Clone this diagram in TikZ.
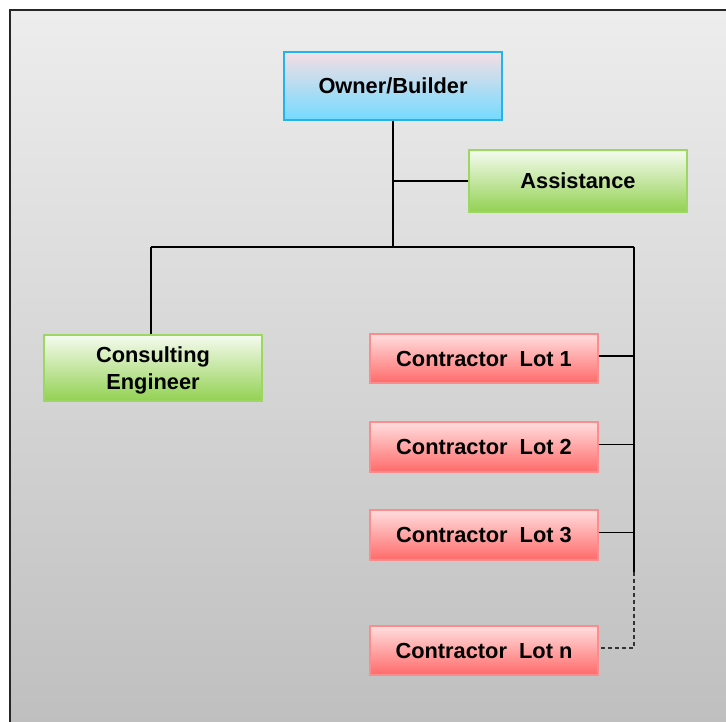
\documentclass[tikz,border=0pt]{standalone}
\usepackage{fontspec}
\setmainfont{Liberation Sans}
\definecolor{bgtop}{HTML}{EDEDED}
\definecolor{bgbot}{HTML}{BEBEBE}
\definecolor{cyantop}{HTML}{F4DEE4}
\definecolor{cyanmid}{HTML}{74DBFF}
\definecolor{cyanbd}{HTML}{22B4EC}
\definecolor{greentop}{HTML}{F5FBEF}
\definecolor{greenmid}{HTML}{93D152}
\definecolor{greenbd}{HTML}{9DD763}
\definecolor{redtop}{HTML}{FFDEDE}
\definecolor{redmid}{HTML}{FFB4B4}
\definecolor{redbot}{HTML}{FF6A6A}
\definecolor{redbd}{HTML}{FF8C8C}
\tikzset{
  box/.style={rectangle, inner sep=0pt, align=center, line width=1.2pt,
    font=\fontsize{21.8}{27.6}\selectfont\bfseries},
  oneline/.style={text height=15.9pt, text depth=0pt},
  cyanbox/.style={box, oneline, draw=cyanbd, top color=cyantop, middle color=cyanmid, bottom color=cyanmid,
    minimum width=218pt, minimum height=68pt},
  greenbox/.style={box, draw=greenbd, top color=greentop, middle color=greenmid, bottom color=greenmid,
    minimum width=218pt},
  redbox/.style={box, oneline, draw=redbd, top color=redtop, middle color=redmid, bottom color=redbot,
    minimum width=228pt, minimum height=49pt},
  link/.style={line width=1.3pt, black},
  dlink/.style={line width=1.3pt, black!80, dash pattern=on 4pt off 3pt}
}
\begin{document}
\begin{tikzpicture}[x=1pt,y=-1pt]
\useasboundingbox (0,0) rectangle (726,722);
\clip (0,0) rectangle (726,722);
\fill[white] (0,0) rectangle (726,722);
\fill[top color=bgtop, bottom color=bgbot] (10,10) rectangle (740,740);
\draw[line width=1.5pt, black!85] (740,10) -- (10,10) -- (10,740);

\node[cyanbox] (own) at (393,86) {Owner/Builder};
\node[greenbox, oneline, minimum height=62pt] (asst) at (578,181) {Assistance};
\node[greenbox, text depth=0pt, minimum height=66pt] (cons) at (153,368) {Consulting\\Engineer};
\node[redbox] (l1) at (484,358.5) {Contractor\ \ Lot 1};
\node[redbox, minimum height=50pt] (l2) at (484,447) {Contractor\ \ Lot 2};
\node[redbox, minimum height=50pt] (l3) at (484,535) {Contractor\ \ Lot 3};
\node[redbox] (ln) at (484,650.5) {Contractor\ \ Lot n};

\coordinate (hub) at (393,247);
\coordinate (hl) at (151,247);
\coordinate (hr) at (634,247);
\coordinate (vend) at (634,572);
\coordinate (vdash) at (634,648);

\draw[link] (own.south) -- (hub);
\draw[link] (asst.west) -- (asst.west -| own.south);
\draw[link] (hl) -- (hr);
\draw[link] (hl) -- (cons.north -| hl);
\draw[link] (hr) -- (vend);
\draw[link] ([yshift=2.5pt]l1.east) -- ([yshift=2.5pt]l1.east -| hr);
\draw[link] ([yshift=2.5pt]l2.east) -- ([yshift=2.5pt]l2.east -| hr);
\draw[link] ([yshift=2.5pt]l3.east) -- ([yshift=2.5pt]l3.east -| hr);
\draw[dlink] (vend) -- (vdash) -- (vdash -| ln.east);
\end{tikzpicture}
\end{document}
